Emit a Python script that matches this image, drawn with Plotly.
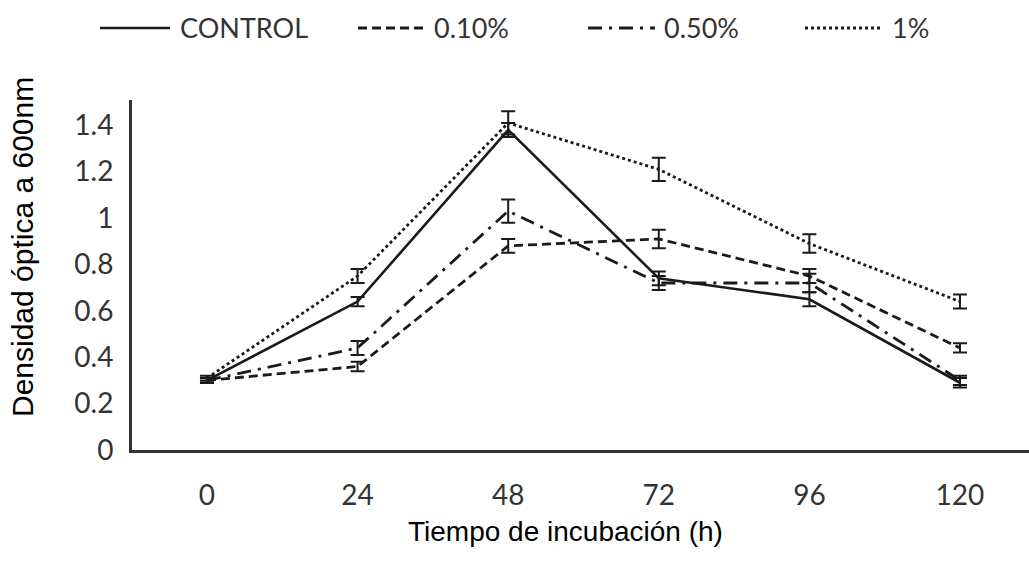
import plotly.graph_objects as go

# Incubation time (h) and optical density at 600 nm for each treatment
hours = [0, 24, 48, 72, 96, 120]
tick_text = ["0", "24", "48", "72", "96", "120"]

control = [0.30, 0.64, 1.38, 0.74, 0.65, 0.29]
control_err = [0.01, 0.02, 0.03, 0.03, 0.03, 0.02]

dose_010 = [0.30, 0.36, 0.88, 0.91, 0.75, 0.44]
dose_010_err = [0.01, 0.02, 0.03, 0.04, 0.03, 0.02]

dose_050 = [0.30, 0.44, 1.03, 0.72, 0.72, 0.30]
dose_050_err = [0.01, 0.03, 0.05, 0.03, 0.04, 0.02]

dose_1 = [0.31, 0.75, 1.41, 1.21, 0.89, 0.64]
dose_1_err = [0.01, 0.03, 0.05, 0.05, 0.04, 0.03]

y_ticks = [0, 0.2, 0.4, 0.6, 0.8, 1.0, 1.2, 1.4]
y_tick_text = ["0", "0.2", "0.4", "0.6", "0.8", "1", "1.2", "1.4"]

INK = "#1a1a1a"
LABEL_INK = "#333333"
TICK_FONT = "Lato, sans-serif"
TITLE_FONT = "Liberation Sans, Arial, sans-serif"

series = [
    ("CONTROL", control, control_err, "solid", 2.6),
    ("0.10%", dose_010, dose_010_err, "9px,5px", 2.8),
    ("0.50%", dose_050, dose_050_err, "14px,7px,3px,7px", 2.8),
    ("1%", dose_1, dose_1_err, "3px,3px", 2.8),
]

fig = go.Figure()
for name, vals, errs, dash, width in series:
    fig.add_trace(go.Scatter(
        x=hours, y=vals, name=name, mode="lines", showlegend=False,
        line=dict(color=INK, width=width, dash=dash),
        error_y=dict(type="data", array=errs, visible=True,
                     color=INK, thickness=2, width=7),
    ))

# Key along the top: line sample followed by its label
PLOT_L, PLOT_W = 132, 897
KEY_Y = (450 - 28) / 350
key_pos = [(100, 170, 178), (358, 425, 432), (588, 655, 662), (805, 880, 890)]
shapes, annotations = [], []
for (name, _, _, dash, width), (x0, x1, xt) in zip(series, key_pos):
    shapes.append(dict(
        type="line", xref="paper", yref="paper",
        x0=(x0 - PLOT_L) / PLOT_W, x1=(x1 - PLOT_L) / PLOT_W,
        y0=KEY_Y, y1=KEY_Y,
        line=dict(color=INK, width=width, dash=dash),
    ))
    annotations.append(dict(
        text=name, xref="paper", yref="paper",
        x=(xt - PLOT_L) / PLOT_W, y=KEY_Y,
        xanchor="left", yanchor="middle", showarrow=False,
        font=dict(family=TICK_FONT, size=27, color=LABEL_INK),
    ))

annotations += [
    dict(text="Densidad óptica a 600nm", xref="paper", yref="paper",
         x=-0.1226, y=0.58, textangle=-90, showarrow=False,
         xanchor="center", yanchor="middle",
         font=dict(family=TITLE_FONT, size=30, color="black")),
    dict(text="Tiempo de incubación (h)", xref="paper", yref="paper",
         x=0.483, y=-0.234, showarrow=False,
         xanchor="center", yanchor="middle",
         font=dict(family=TITLE_FONT, size=28, color="black")),
]

fig.update_layout(
    width=1029, height=565,
    margin=dict(l=132, r=0, t=100, b=115),
    paper_bgcolor="white", plot_bgcolor="white",
    showlegend=False,
    shapes=shapes,
    annotations=annotations,
    xaxis=dict(
        range=[-11.95, 131.0], tickmode="array", tickvals=hours,
        ticktext=tick_text, showgrid=False, zeroline=False,
        showline=True, linecolor="#333", linewidth=3, ticks="",
        tickfont=dict(family=TICK_FONT, size=28, color=LABEL_INK),
        ticklabelstandoff=18,
    ),
    yaxis=dict(
        range=[0, 1.509], tickmode="array", tickvals=y_ticks,
        ticktext=y_tick_text, showgrid=False, zeroline=False,
        showline=True, linecolor="#333", linewidth=3, ticks="",
        tickfont=dict(family=TICK_FONT, size=28, color=LABEL_INK),
        ticklabelstandoff=10,
    ),
)

fig.write_html("out.html")
